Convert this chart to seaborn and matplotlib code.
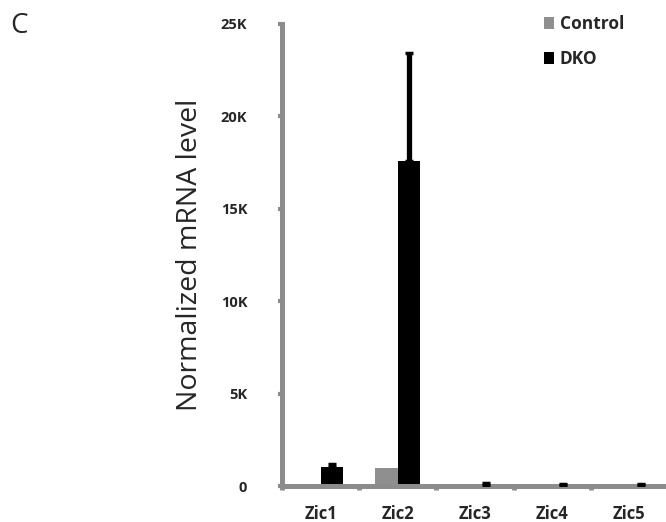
import numpy as np
import pandas as pd
import matplotlib
matplotlib.use("Agg")
import matplotlib.pyplot as plt
import seaborn as sns

genes = ["Zic1", "Zic2", "Zic3", "Zic4", "Zic5"]
groups = ["Control", "DKO"]
control_vals = [0, 960, 0, 0, 0]
control_err = [0, 0, 0, 0, 0]
dko_vals = [1010, 17600, 80, 40, 40]
dko_err = [190, 5850, 100, 70, 70]
ytick_vals = [0, 5000, 10000, 15000, 20000, 25000]
ytick_labels = ["0", "5K", "10K", "15K", "20K", "25K"]

colors = {"Control": "#8f8f8f", "DKO": "#000000"}
axis_gray = "#8c8c8c"

df = pd.DataFrame({
    "gene": genes * 2,
    "group": ["Control"] * len(genes) + ["DKO"] * len(genes),
    "value": control_vals + dko_vals,
})
errs = {"Control": control_err, "DKO": dko_err}

sns.set_style("white")
plt.rcParams["font.family"] = ["Open Sans", "DejaVu Sans"]

fig = plt.figure(figsize=(6.66, 5.22), dpi=100)
ax = fig.add_axes([282 / 666, 1 - 486 / 522, 386 / 666, (486 - 24) / 522])

sns.barplot(data=df, x="gene", y="value", hue="group", hue_order=groups,
            palette=colors, order=genes, width=0.585, errorbar=None,
            saturation=1, ax=ax, linewidth=0)

for cont, g in zip(ax.containers, groups):
    e = errs[g]
    xs, ys, es = [], [], []
    for b, err in zip(cont, e):
        if err > 0:
            xs.append(b.get_x() + b.get_width() / 2)
            ys.append(b.get_height())
            es.append(err)
    if xs:
        ax.errorbar(xs, ys, yerr=[np.zeros(len(es)), es], fmt="none",
                    ecolor="black", elinewidth=3.8, capsize=3, capthick=2.5,
                    zorder=3)

ax.set_ylim(0, 25000)
ax.set_xlim(-0.5, 4.5)
ax.set_yticks(ytick_vals)
ax.set_yticklabels(ytick_labels, fontsize=10.5, fontweight="bold")
ax.set_xticks(range(len(genes)))
ax.set_xticklabels(genes, fontsize=12, fontweight="bold")
ax.set_xticks(np.arange(-0.5, len(genes) + 0.5, 1), minor=True)

ax.tick_params(axis="y", which="major", length=3, width=3, color=axis_gray,
               pad=22, left=True)
ax.tick_params(axis="x", which="major", length=0, pad=14)
ax.tick_params(axis="x", which="minor", length=3, width=3.5, color=axis_gray,
               bottom=True)

for s in ["top", "right"]:
    ax.spines[s].set_visible(False)
for s in ["left", "bottom"]:
    ax.spines[s].set_color(axis_gray)
    ax.spines[s].set_linewidth(3.6)

ax.set_xlabel("")
ax.set_ylabel("Normalized mRNA level", fontsize=20.5, labelpad=12,
              fontweight="normal")

handles, labels = ax.get_legend_handles_labels()
ax.legend(handles, labels, loc="upper left",
          bbox_to_anchor=(544 / 666, 1 - 15 / 522),
          bbox_transform=fig.transFigure, frameon=False,
          prop={"size": 12.5, "weight": "bold"},
          handlelength=0.55, handleheight=0.7, handletextpad=0.35,
          labelspacing=1.0, borderaxespad=0, borderpad=0)

fig.text(10 / 666, 1 - 12 / 522, "C", fontsize=20, va="top", ha="left")

fig.savefig("out.png", dpi=100)
